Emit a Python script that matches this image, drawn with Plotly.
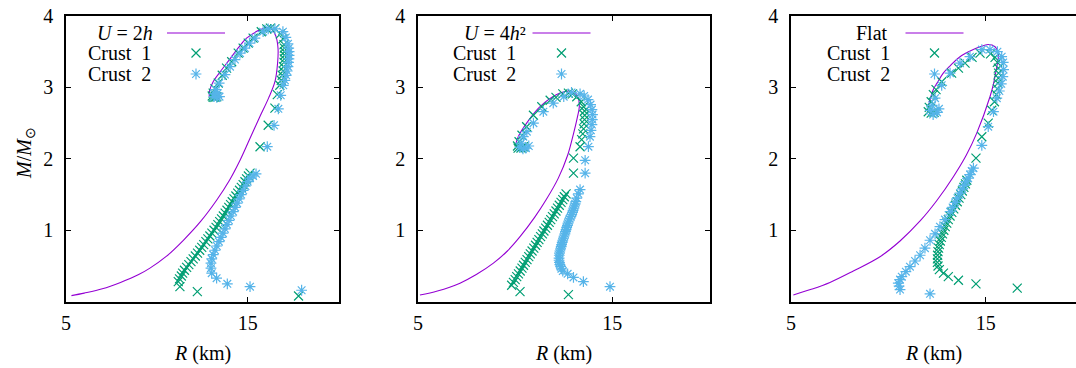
import plotly.graph_objects as go

W, H = 1076, 368

# ---------------- Panel 1 : U = 2h ----------------
p1_curve_R = [5.3, 6.0, 7.0, 8.0, 9.0, 9.62, 10.5, 11.46, 12.4, 13.29, 14.0, 14.58, 15.1, 15.65,
              16.15, 16.5, 16.65, 16.67, 16.55, 16.35, 16.05, 15.7, 14.94, 14.5, 14.06, 13.55,
              13.1, 12.9, 12.89]
p1_curve_M = [0.085, 0.12, 0.18, 0.27, 0.38, 0.47, 0.63, 0.86, 1.12, 1.42, 1.7, 1.98, 2.27, 2.58,
              2.85, 3.08, 3.35, 3.55, 3.72, 3.81, 3.84, 3.81, 3.69, 3.56, 3.41, 3.24,
              3.08, 2.95, 2.87]

p1_c1_R = [17.8, 12.23, 11.27,
           11.18, 11.25, 11.35, 11.42, 11.52, 11.64, 11.76, 11.88, 12.00, 12.12, 12.24, 12.36,
           12.47, 12.58, 12.70, 12.81, 12.92, 13.03, 13.15, 13.26, 13.36, 13.46, 13.56, 13.66,
           13.76, 13.86, 13.96, 14.06, 14.15, 14.25, 14.35, 14.45, 14.55, 14.65, 14.75, 14.85,
           14.94, 15.04, 15.13,
           15.68, 16.13, 16.5, 16.63, 16.77, 16.85, 16.9, 16.95, 16.98, 17.0, 17.02, 17.03, 17.03,
           17.02, 17.0, 16.94, 16.8, 16.5, 16.25, 16.05, 15.75, 15.3, 15.03, 14.75, 14.48, 14.12,
           13.84, 13.6, 13.38, 13.2, 13.1, 13.05, 13.1, 13.2, 13.3]
p1_c1_M = [0.08, 0.14, 0.21,
           0.28, 0.32, 0.36, 0.40, 0.44, 0.48, 0.52, 0.56, 0.60, 0.64, 0.68, 0.72,
           0.76, 0.80, 0.84, 0.88, 0.92, 0.96, 1.00, 1.04, 1.08, 1.12, 1.16, 1.20,
           1.24, 1.28, 1.32, 1.36, 1.40, 1.44, 1.48, 1.52, 1.56, 1.60, 1.64, 1.68,
           1.72, 1.76, 1.80,
           2.17, 2.47, 2.71, 2.90, 3.03, 3.10, 3.17, 3.23, 3.29, 3.35, 3.40, 3.45, 3.50,
           3.55, 3.60, 3.68, 3.75, 3.82, 3.83, 3.82, 3.78, 3.69, 3.62, 3.55, 3.48, 3.36,
           3.27, 3.17, 3.06, 2.98, 2.92, 2.88, 2.86, 2.86, 2.87]

p1_c2_R = [17.97, 15.13, 13.88, 13.29,
           13.02, 12.98, 12.98, 13.02, 13.1, 13.2, 13.3, 13.42, 13.53, 13.64, 13.75, 13.86,
           13.97, 14.08, 14.2, 14.31, 14.42, 14.53, 14.64, 14.75, 14.88, 15.0, 15.13, 15.3, 15.46,
           16.08, 16.45, 16.69, 16.82, 16.96, 17.05, 17.12, 17.18, 17.22, 17.25, 17.27, 17.28,
           17.28, 17.26, 17.22, 17.1, 16.94, 16.5, 16.13, 15.85, 15.4, 15.1, 14.85, 14.58, 14.3,
           14.03, 13.75, 13.43, 13.25, 13.15, 13.15, 13.3, 13.45, 13.35]
p1_c2_M = [0.16, 0.21, 0.25, 0.33,
           0.40, 0.47, 0.54, 0.60, 0.66, 0.72, 0.78, 0.84, 0.90, 0.96, 1.02, 1.08,
           1.14, 1.20, 1.26, 1.32, 1.38, 1.44, 1.50, 1.56, 1.62, 1.68, 1.73, 1.76, 1.79,
           2.17, 2.47, 2.70, 2.89, 3.03, 3.10, 3.17, 3.23, 3.29, 3.35, 3.40, 3.45,
           3.50, 3.55, 3.61, 3.70, 3.78, 3.82, 3.82, 3.78, 3.69, 3.62, 3.55, 3.48, 3.39,
           3.29, 3.18, 3.06, 2.97, 2.91, 2.87, 2.86, 2.87, 2.92]

# ---------------- Panel 2 : U = 4h^2 ----------------
p2_curve_R = [5.1, 6.0, 7.16, 8.0, 8.88, 9.6, 10.25, 11.0, 11.6, 12.22, 12.7, 13.0, 13.2, 13.3,
              13.25, 13.08, 12.74, 12.14, 11.28, 10.59, 10.16, 10.04, 10.1]
p2_curve_M = [0.094, 0.15, 0.26, 0.38, 0.54, 0.71, 0.91, 1.18, 1.43, 1.73, 2.05, 2.35, 2.58, 2.73,
              2.85, 2.92, 2.95, 2.90, 2.73, 2.50, 2.31, 2.19, 2.15]

p2_c1_R = [10.25, 12.74,
           9.82, 9.91, 10.00, 10.08, 10.17, 10.26, 10.35, 10.43, 10.52, 10.61, 10.70, 10.78,
           10.87, 10.96, 11.05, 11.13, 11.22, 11.31, 11.40, 11.48, 11.57, 11.66, 11.75, 11.83,
           11.92, 12.01, 12.10, 12.18, 12.27, 12.36, 12.45, 12.53, 12.62,
           13.0, 13.0, 13.34, 13.42, 13.48, 13.52, 13.55, 13.57, 13.58, 13.57, 13.52, 13.4, 13.17,
           12.95, 12.74, 12.45, 12.1, 11.8, 11.37, 10.94, 10.59, 10.35, 10.2, 10.12, 10.15, 10.3,
           10.42]
p2_c1_M = [0.14, 0.10,
           0.23, 0.27, 0.31, 0.35, 0.39, 0.43, 0.47, 0.51, 0.55, 0.59, 0.63, 0.67,
           0.71, 0.75, 0.79, 0.83, 0.87, 0.91, 0.95, 0.99, 1.03, 1.07, 1.11, 1.15,
           1.19, 1.23, 1.27, 1.31, 1.35, 1.39, 1.43, 1.47, 1.51,
           1.80, 2.01, 2.17, 2.27, 2.35, 2.42, 2.49, 2.55, 2.61, 2.67, 2.73, 2.80, 2.87,
           2.91, 2.92, 2.91, 2.86, 2.82, 2.73, 2.61, 2.45, 2.33, 2.24, 2.18, 2.15, 2.15,
           2.17]

p2_c2_R = [14.88, 13.51, 13.0, 12.7,
           12.45, 12.38, 12.34, 12.3, 12.28, 12.26, 12.26, 12.27, 12.28, 12.3, 12.34, 12.37,
           12.39, 12.42, 12.45, 12.49, 12.52, 12.56, 12.59, 12.62, 12.65, 12.69, 12.72, 12.76,
           12.8, 12.86, 12.91, 12.95, 12.98, 13.02, 13.05, 13.09, 13.12, 13.17, 13.25, 13.34,
           13.6, 13.6, 13.77, 13.85, 13.9, 13.95, 13.97, 13.98, 13.95, 13.88, 13.75, 13.55, 13.34,
           12.9, 12.5, 11.96, 11.45, 10.94, 10.6, 10.42, 10.3, 10.25, 10.4, 10.55, 10.7]
p2_c2_M = [0.21, 0.28, 0.34, 0.39,
           0.43, 0.46, 0.49, 0.52, 0.55, 0.58, 0.61, 0.65, 0.68, 0.71, 0.74, 0.77,
           0.80, 0.83, 0.86, 0.89, 0.92, 0.95, 0.98, 1.01, 1.04, 1.07, 1.10, 1.13,
           1.16, 1.19, 1.22, 1.25, 1.28, 1.31, 1.34, 1.37, 1.40, 1.45, 1.51, 1.57,
           1.80, 1.98, 2.17, 2.31, 2.40, 2.48, 2.55, 2.62, 2.69, 2.76, 2.83, 2.88, 2.91,
           2.93, 2.87, 2.78, 2.66, 2.50, 2.38, 2.31, 2.22, 2.16, 2.14, 2.15, 2.18]

# ---------------- Panel 3 : Flat ----------------
p3_curve_R = [5.12, 6.0, 7.0, 8.2, 9.57, 10.6, 11.63, 12.5, 13.34, 14.0, 14.54, 15.22, 15.4,
              15.57, 15.65, 15.62, 15.48, 15.13, 14.71, 14.2, 13.68, 13.2, 12.82, 12.5, 12.31,
              12.08]
p3_curve_M = [0.094, 0.17, 0.27, 0.43, 0.63, 0.85, 1.13, 1.42, 1.75, 2.05, 2.36, 2.87, 3.05,
              3.29, 3.42, 3.50, 3.57, 3.60, 3.57, 3.51, 3.43, 3.31, 3.20, 3.06, 2.97,
              2.76]

p3_c1_R = [16.62, 14.5, 13.6, 13.08, 12.83, 12.62, 12.55, 12.52, 12.52, 12.53, 12.55, 12.58,
           12.62, 12.67, 12.72, 12.78, 12.85, 12.92, 13.0, 13.08, 13.17, 13.26, 13.36, 13.45,
           13.54, 13.63, 13.72, 13.8, 13.88, 13.96, 14.03,
           14.5, 14.8, 15.13, 15.31, 15.45, 15.55, 15.6, 15.63, 15.65, 15.66, 15.65, 15.6, 15.48,
           15.25, 14.71, 14.3, 13.94, 13.6, 13.25, 12.74, 12.45, 12.31, 12.2, 12.1, 12.05, 12.2,
           12.35]
p3_c1_M = [0.19, 0.25, 0.30, 0.35, 0.40, 0.45, 0.50, 0.55, 0.60, 0.65, 0.70, 0.75,
           0.80, 0.85, 0.90, 0.95, 1.00, 1.05, 1.10, 1.15, 1.20, 1.25, 1.30, 1.35,
           1.40, 1.45, 1.50, 1.55, 1.60, 1.65, 1.70,
           2.01, 2.31, 2.50, 2.68, 2.80, 2.90, 2.98, 3.06, 3.13, 3.20, 3.27, 3.35, 3.42,
           3.47, 3.48, 3.42, 3.34, 3.27, 3.20, 3.08, 2.97, 2.90, 2.80, 2.72, 2.66, 2.64,
           2.65]

p3_c2_R = [12.14, 10.6, 10.55, 10.51, 10.6, 10.69, 10.9, 11.11, 11.37, 11.63, 11.88, 12.14,
           12.4, 12.65, 12.91, 13.17, 13.3, 13.43, 13.55, 13.68, 13.8, 13.9, 14.0, 14.1, 14.2,
           14.28, 14.37,
           14.8, 15.13, 15.4, 15.57, 15.7, 15.8, 15.88, 15.92, 15.9, 15.82, 15.6, 15.22, 14.8,
           14.19, 13.68, 13.17, 12.74, 12.4, 12.25, 12.15, 12.3, 12.5, 12.6]
p3_c2_M = [0.11, 0.17, 0.22, 0.26, 0.31, 0.35, 0.42, 0.49, 0.57, 0.65, 0.75, 0.86,
           0.95, 1.05, 1.15, 1.26, 1.32, 1.39, 1.45, 1.52, 1.58, 1.63, 1.68, 1.73, 1.78,
           1.83, 1.87,
           2.19, 2.45, 2.66, 2.85, 2.95, 3.05, 3.15, 3.25, 3.35, 3.43, 3.50, 3.53, 3.53,
           3.43, 3.34, 3.20, 3.03, 2.85, 2.75, 2.68, 2.62, 2.65, 2.70]

curve_labels = ["<i>U</i> = 2<i>h</i>", "<i>U</i> = 4<i>h</i>²", "Flat"]
crust_labels = ["Crust  1", "Crust  2"]
x_ticks = [5, 15]
x_tick_text = ["5", "15"]
y_ticks = [1, 2, 3, 4]
y_tick_text = ["1", "2", "3", "4"]

# ---------------- styling / layout ----------------
PURPLE = "#9400D3"
GREEN = "#009E73"
BLUE = "#56B4E9"
FONT = "Liberation Serif"
FS = 20
MSIZE = 9
MLW = 1.2

panels = [
    dict(curve=(p1_curve_R, p1_curve_M), c1=(p1_c1_R, p1_c1_M), c2=(p1_c2_R, p1_c2_M),
         left=66, right=338.5, xr=[5, 20], mirror_y="ticks"),
    dict(curve=(p2_curve_R, p2_curve_M), c1=(p2_c1_R, p2_c1_M), c2=(p2_c2_R, p2_c2_M),
         left=418, right=709.5, xr=[5, 20], mirror_y="ticks"),
    dict(curve=(p3_curve_R, p3_curve_M), c1=(p3_c1_R, p3_c1_M), c2=(p3_c2_R, p3_c2_M),
         left=791, right=1076, xr=[5, 5 + (1076 - 791) / 19.47], mirror_y=False),
]
top_px, bot_px = 16, 301.7

fig = go.Figure()
layout = dict(width=W, height=H, margin=dict(l=0, r=0, t=0, b=0, autoexpand=False),
              paper_bgcolor="white", plot_bgcolor="rgba(0,0,0,0)", showlegend=False,
              font=dict(family=FONT, size=FS, color="black"))
annotations = []

for i, p in enumerate(panels):
    n = "" if i == 0 else str(i + 1)
    xa, ya = "x" + n, "y" + n
    fig.add_trace(go.Scatter(x=p["curve"][0], y=p["curve"][1], mode="lines",
                             line=dict(color=PURPLE, width=1.1, shape="spline", smoothing=1.0),
                             xaxis=xa, yaxis=ya, hoverinfo="skip"))
    fig.add_trace(go.Scatter(x=p["c1"][0], y=p["c1"][1], mode="markers",
                             marker=dict(symbol="x-thin", size=MSIZE, color=GREEN,
                                         line=dict(color=GREEN, width=MLW)),
                             xaxis=xa, yaxis=ya))
    fig.add_trace(go.Scatter(x=p["c2"][0], y=p["c2"][1], mode="markers",
                             marker=dict(symbol="asterisk", size=MSIZE, color=BLUE,
                                         line=dict(color=BLUE, width=MLW)),
                             xaxis=xa, yaxis=ya))
    common = dict(showgrid=False, zeroline=False, showline=True, linecolor="black",
                  linewidth=1.5, ticks="inside", ticklen=5, tickcolor="black",
                  tickfont=dict(family=FONT, size=FS), automargin=False)
    layout["xaxis" + n] = dict(domain=[p["left"] / W, p["right"] / W], range=p["xr"],
                               tickvals=x_ticks, ticktext=x_tick_text, mirror="ticks",
                               anchor=ya, ticklabelstandoff=3, **common)
    layout["yaxis" + n] = dict(domain=[(H - bot_px) / H, (H - top_px) / H], range=[0, 4],
                               tickvals=y_ticks, ticktext=y_tick_text, mirror=p["mirror_y"],
                               anchor=xa, ticklabelstandoff=7, **common)
    # x-axis title
    annotations.append(dict(text="<i>R</i> (km)", xref="paper", yref="paper",
                            x=(p["left"] + min(p["right"], p["left"] + 292)) / 2 / W,
                            y=(H - 353) / H, showarrow=False, xanchor="center", yanchor="middle",
                            font=dict(family=FONT, size=FS)))

# y-axis title
annotations.append(dict(text="<i>M</i>/<i>M</i><sub>⊙</sub>", xref="paper", yref="paper",
                        x=25 / W, y=(H - 153) / H, textangle=-90, showarrow=False,
                        xanchor="center", yanchor="middle", font=dict(family=FONT, size=FS)))

# ---------------- keys (text right-aligned, sample on the right) ----------------
key_text_right = [(155, 153), (528, 518), (890, 892)]
key_sample_x = [196, 561.5, 934.5]
key_line_half = 29
key_rows_y = [33, 53, 74]

# overlay axis in pixel units for the key samples
layout["xaxis4"] = dict(domain=[0, 1], range=[0, W], visible=False, fixedrange=True)
layout["yaxis4"] = dict(domain=[0, 1], range=[H, 0], visible=False, fixedrange=True, anchor="x4")

for i in range(3):
    annotations.append(dict(text=curve_labels[i], xref="paper", yref="paper",
                            x=key_text_right[i][0] / W, y=(H - key_rows_y[0]) / H,
                            showarrow=False, xanchor="right", yanchor="middle",
                            font=dict(family=FONT, size=FS)))
    for j in range(2):
        annotations.append(dict(text=crust_labels[j], xref="paper", yref="paper",
                                x=key_text_right[i][1] / W, y=(H - key_rows_y[j + 1]) / H,
                                showarrow=False, xanchor="right", yanchor="middle",
                                font=dict(family=FONT, size=FS)))
    sx = key_sample_x[i]
    fig.add_trace(go.Scatter(x=[sx - key_line_half, sx + key_line_half],
                             y=[key_rows_y[0], key_rows_y[0]], mode="lines",
                             line=dict(color=PURPLE, width=1.1), xaxis="x4", yaxis="y4",
                             hoverinfo="skip"))
    fig.add_trace(go.Scatter(x=[sx], y=[key_rows_y[1]], mode="markers",
                             marker=dict(symbol="x-thin", size=MSIZE, color=GREEN,
                                         line=dict(color=GREEN, width=MLW)),
                             xaxis="x4", yaxis="y4", hoverinfo="skip"))
    fig.add_trace(go.Scatter(x=[sx], y=[key_rows_y[2]], mode="markers",
                             marker=dict(symbol="asterisk", size=MSIZE, color=BLUE,
                                         line=dict(color=BLUE, width=MLW)),
                             xaxis="x4", yaxis="y4", hoverinfo="skip"))

layout["annotations"] = annotations
fig.update_layout(**layout)
fig.write_html("out.html", config={"displayModeBar": False},
               post_script="document.body.style.margin='0';document.body.style.overflow='hidden';")
